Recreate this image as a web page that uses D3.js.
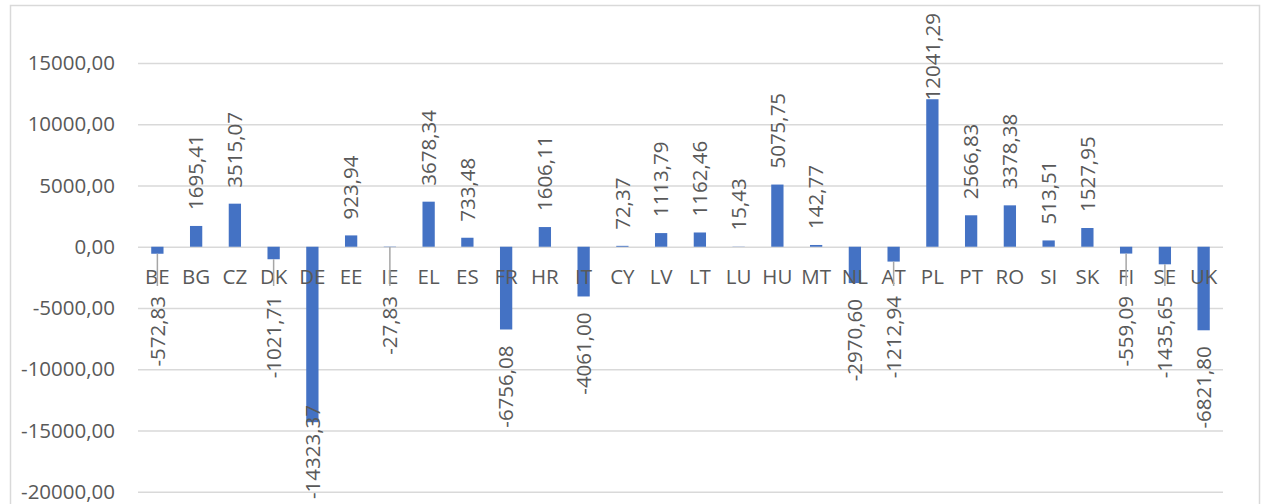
<!DOCTYPE html>
<html>
<head>
<meta charset="utf-8">
<script src="https://cdn.jsdelivr.net/npm/d3@7"></script>
<style>
  html, body { margin: 0; padding: 0; background: #fff; }
  svg { display: block; }
  text { font-family: "Open Sans", "Noto Sans", sans-serif; fill: #595959; }
</style>
</head>
<body>
<svg id="chart" width="1266" height="504"></svg>
<script>
// ---- data ----
const categories = ["BE","BG","CZ","DK","DE","EE","IE","EL","ES","FR","HR","IT","CY","LV","LT","LU","HU","MT","NL","AT","PL","PT","RO","SI","SK","FI","SE","UK"];
const values = [-572.83, 1695.41, 3515.07, -1021.71, -14323.37, 923.94, -27.83, 3678.34, 733.48, -6756.08, 1606.11, -4061.00, 72.37, 1113.79, 1162.46, 15.43, 5075.75, 142.77, -2970.60, -1212.94, 12041.29, 2566.83, 3378.38, 513.51, 1527.95, -559.09, -1435.65, -6821.80];
const yTicks = [-20000, -15000, -10000, -5000, 0, 5000, 10000, 15000];

// ---- layout ----
const W = 1266, H = 504;
const plot = { left: 138, right: 1223, top: 63, bottom: 491.7 };
const barColor = "#4472C4";
const gridColor = "#D9D9D9";

const loc = d3.formatLocale({ decimal: ",", thousands: "", grouping: [3], currency: ["", ""], minus: "-" });
const fmt = loc.format(".2f");

const svg = d3.select("#chart");

// chart border
svg.append("rect")
  .attr("x", 10.5).attr("y", 5.5)
  .attr("width", 1249).attr("height", 540)
  .attr("fill", "none").attr("stroke", gridColor).attr("stroke-width", 1.5);

const x = d3.scaleBand()
  .domain(categories)
  .range([plot.left, plot.right])
  .paddingInner(0.683)
  .paddingOuter(0.3415);

const y = d3.scaleLinear()
  .domain([-20000, 15000])
  .range([plot.bottom, plot.top]);

// gridlines + y labels
const yAxis = d3.axisLeft(y)
  .tickValues(yTicks)
  .tickSize(-(plot.right - plot.left))
  .tickPadding(23)
  .tickFormat(fmt);

const gy = svg.append("g")
  .attr("transform", `translate(${plot.left},0)`)
  .call(yAxis);
gy.select(".domain").remove();
gy.selectAll(".tick line").attr("stroke", gridColor).attr("stroke-width", 1.5);
gy.selectAll(".tick text")
  .attr("fill", "#595959")
  .style("font-size", "20.5px")
  .style("font-family", "'Open Sans', sans-serif");

const data = categories.map((c, i) => ({ c, v: values[i] }));

// bars
svg.append("g").selectAll("rect")
  .data(data)
  .join("rect")
  .attr("x", d => x(d.c))
  .attr("width", x.bandwidth())
  .attr("y", d => y(Math.max(0, d.v)))
  .attr("height", d => Math.abs(y(d.v) - y(0)))
  .attr("fill", barColor);

// category labels
svg.append("g").selectAll("text")
  .data(data)
  .join("text")
  .attr("x", d => x(d.c) + x.bandwidth() / 2)
  .attr("y", 277)
  .attr("dy", "0.35em")
  .attr("text-anchor", "middle")
  .style("font-size", "20.5px")
  .text(d => d.c);

// value labels
const leaderG = svg.append("g");
const labelG = svg.append("g");
const gap = 16;
const topLimit = 13, bottomLimit = 499, belowAxis = 296;

data.forEach(d => {
  const cx = x(d.c) + x.bandwidth() / 2;
  const t = labelG.append("text")
    .style("font-size", "20.5px")
    .attr("dy", "0.35em")
    .text(fmt(d.v));
  const len = t.node().getComputedTextLength();
  if (d.v >= 0) {
    let bottom = y(d.v) - gap;
    if (bottom - len < topLimit) bottom = topLimit + len;
    t.attr("text-anchor", "start")
     .attr("transform", `translate(${cx},${bottom}) rotate(-90)`);
  } else {
    const end = y(d.v);
    let top = Math.max(end + gap, belowAxis);
    if (top + len > bottomLimit) top = bottomLimit - len;
    t.attr("text-anchor", "end")
     .attr("transform", `translate(${cx},${top}) rotate(-90)`);
    if (top > end + gap + 4) {
      leaderG.append("line")
        .attr("x1", cx).attr("x2", cx)
        .attr("y1", end).attr("y2", top - 10)
        .attr("stroke", "#A6A6A6").attr("stroke-width", 1.5);
    }
  }
});
</script>
</body>
</html>
